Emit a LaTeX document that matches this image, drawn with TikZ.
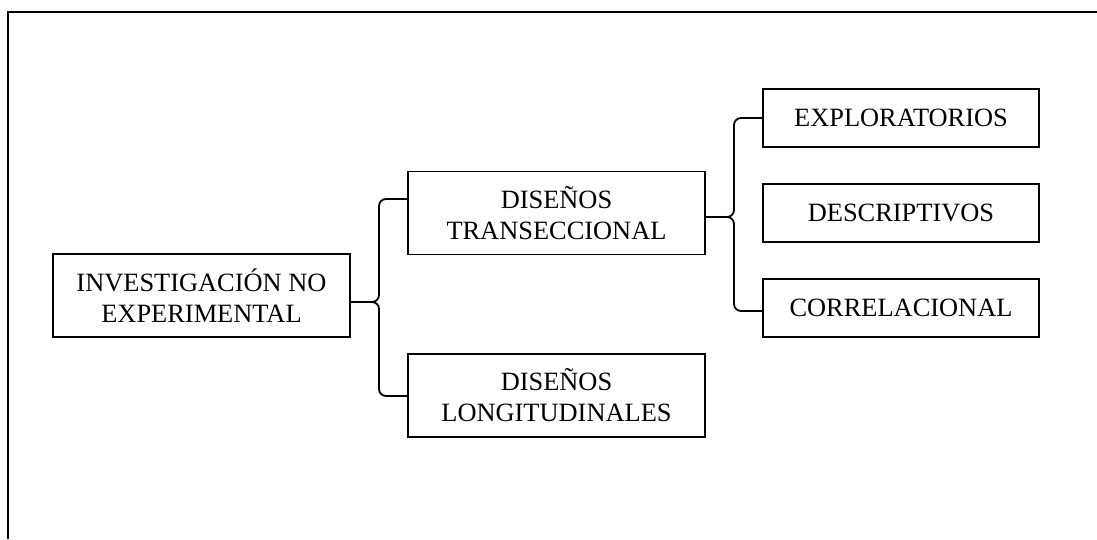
\documentclass[tikz,border=0pt]{standalone}
\usepackage{fontspec}
\setmainfont{Liberation Serif}

\tikzset{
  box/.style={draw, line width=1.6pt, align=center, inner sep=0pt,
              font=\fontsize{26.4}{31}\selectfont},
  bigbox/.style={box, minimum width=297pt, minimum height=83pt},
  smallbox/.style={box, minimum width=276pt, minimum height=58pt},
  brace/.style={line width=1.8pt, rounded corners=7pt}
}

\begin{document}
\begin{tikzpicture}[x=1pt, y=-1pt]
  \useasboundingbox (0,0) rectangle (1097,539);

  \draw [line width=2pt] (8,539) -- (8,12) -- (1097,12);

  \node [bigbox]   (inv) at (201.5,295.5) {INVESTIGACIÓN NO\\EXPERIMENTAL};
  \node [bigbox]   (tra) at (556.5,213)   {DISEÑOS\\TRANSECCIONAL};
  \node [bigbox]   (lon) at (556.5,395.5) {DISEÑOS\\LONGITUDINALES};
  \node [smallbox] (exp) at (901,118)     {EXPLORATORIOS};
  \node [smallbox] (des) at (901,213)     {DESCRIPTIVOS};
  \node [smallbox] (cor) at (901,308)     {CORRELACIONAL};

  \coordinate (tip1) at (379,302);
  \coordinate (tip2) at (734,217);

  \draw [brace] (tra.west |- 0,199) -- (tip1 |- 0,199) -- (tip1) -- (inv.east |- tip1);
  \draw [brace] (lon.west |- 0,396) -- (tip1 |- 0,396) -- (tip1) -- (inv.east |- tip1);

  \draw [brace] (exp.west) -- (tip2 |- exp.west) -- (tip2) -- (tra.east |- tip2);
  \draw [brace] (cor.west |- 0,311) -- (tip2 |- 0,311) -- (tip2) -- (tra.east |- tip2);
\end{tikzpicture}
\end{document}
